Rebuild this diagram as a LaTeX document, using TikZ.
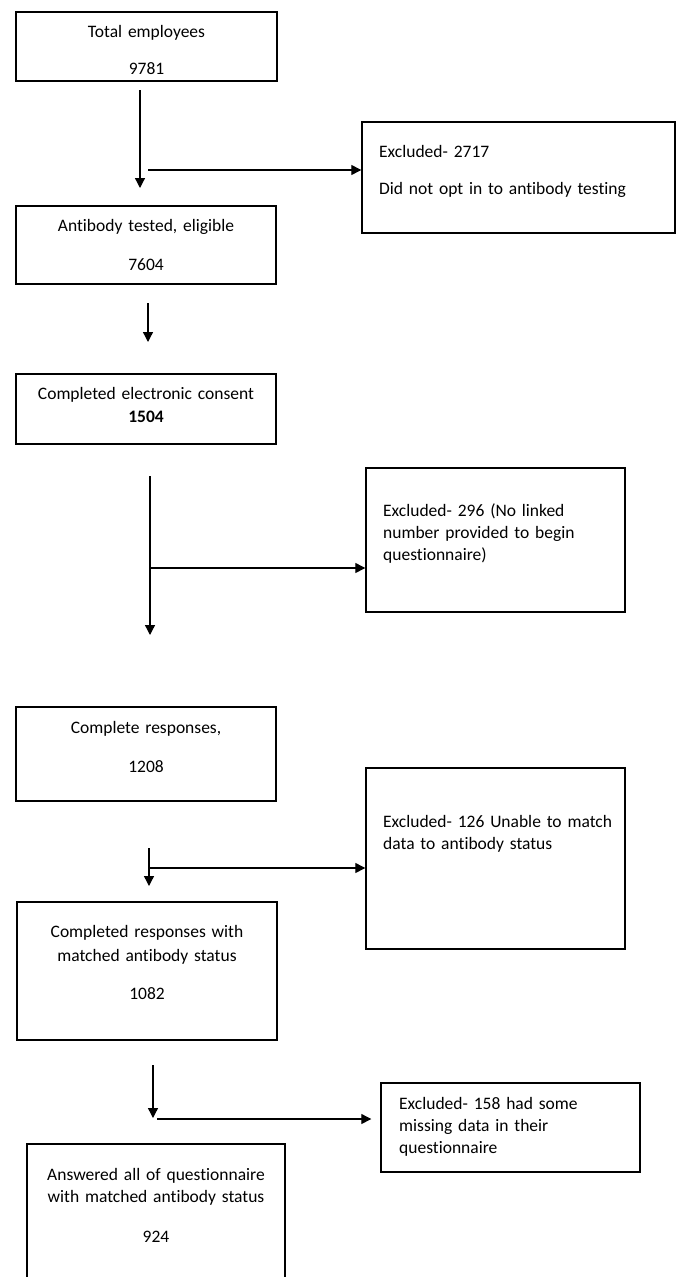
\documentclass[tikz,border=0pt]{standalone}
\usepackage{fontspec}
\setmainfont{Carlito}[Ligatures=NoCommon]
\usepackage{tikz}
\usetikzlibrary{arrows.meta}
\usetikzlibrary{calc}
\tikzset{my box/.style={
  draw=black,
  line width=1.4pt,
  inner sep=0pt
  }
}
\tikzset{my text/.style={
  inner sep=0pt,
  font=\fontsize{17.5}{22}\selectfont
  }
}
\tikzset{my arrow/.style={
  black,
  line width=1.3pt,
  -{Triangle[length=10pt,width=10pt]}
  }
}

\begin{document}
\begin{tikzpicture}[x=1pt,y=-1pt]
    \useasboundingbox (0,0) rectangle (678,1277);

    \node[my box,minimum width=261,minimum height=69] (Total) at (146.5,46.5) {};
    \node[my box,minimum width=260,minimum height=78] (Tested) at (146,245) {};
    \node[my box,minimum width=260,minimum height=70] (Consent) at (146,409) {};
    \node[my box,minimum width=260,minimum height=94] (Complete) at (146,754) {};
    \node[my box,minimum width=260,minimum height=138] (Matched) at (147,971) {};
    \node[my box,minimum width=258,minimum height=160] (Answered) at (156,1224) {};

    \node[my box,minimum width=313,minimum height=111] (Excl1) at (518.5,177.5) {};
    \node[my box,minimum width=259,minimum height=144] (Excl2) at (495.5,540) {};
    \node[my box,minimum width=259,minimum height=181] (Excl3) at (495.5,858.5) {};
    \node[my box,minimum width=259,minimum height=89] (Excl4) at (510.5,1127.5) {};

    \node[my text,anchor=base,text width=250pt,align=center] (TotalT) at (146.5,37.5) {Total employees\\[15pt]9781};
    \node[my text,anchor=base,text width=250pt,align=center] (TestedT) at (146,231.5) {Antibody tested, eligible\\[17pt]7604};
    \node[my text,anchor=base,text width=250pt,align=center] (ConsentT) at (146,399.5) {Completed electronic consent\\[1pt]\textbf{1504}};
    \node[my text,anchor=base,text width=250pt,align=center] (CompleteT) at (146,733.5) {Complete responses,\\[17pt]1208};
    \node[my text,anchor=base,text width=250pt,align=center] (MatchedT) at (147,937.5) {Completed responses with\\[2pt]matched antibody status\\[16pt]1082};
    \node[my text,anchor=base,text width=250pt,align=center] (AnsweredT) at (156,1180.5) {Answered all of questionnaire\\with matched antibody status\\[18pt]924};

    \node[my text,anchor=base west,text width=290pt,align=left] (Excl1T) at (379,157.5) {Excluded- 2717\\[15pt]Did not opt in to antibody testing};
    \node[my text,anchor=base west,text width=240pt,align=left] (Excl2T) at (383,516.5) {Excluded- 296 (No linked\\number provided to begin\\questionnaire)};
    \node[my text,anchor=base west,text width=240pt,align=left] (Excl3T) at (383,827.5) {Excluded- 126 Unable to match\\data to antibody status};
    \node[my text,anchor=base west,text width=240pt,align=left] (Excl4T) at (399,1109.5) {Excluded- 158 had some\\missing data in their\\questionnaire};

    \coordinate (A1) at (140,90);
    \coordinate (A2) at (140,188);
    \coordinate (B1) at (148,170);
    \coordinate (A3) at (148,303);
    \coordinate (A4) at (148,342);
    \coordinate (A5) at (150,476);
    \coordinate (A6) at (150,635);
    \coordinate (B2) at (150,568);
    \coordinate (A7) at (149,848);
    \coordinate (A8) at (149,886);
    \coordinate (B3) at (149,868);
    \coordinate (A9) at (153,1065);
    \coordinate (A10) at (153,1118);
    \coordinate (B4) at (157,1119);

    \draw[my arrow] (A1) -- (A2);
    \draw[my arrow] (B1) -- (B1 -| Excl1.west);
    \draw[my arrow] (A3) -- (A4);
    \draw[my arrow] (A5) -- (A6);
    \draw[my arrow] (B2) -- (B2 -| Excl2.west);
    \draw[my arrow] (A7) -- (A8);
    \draw[my arrow] (B3) -- (B3 -| Excl3.west);
    \draw[my arrow] (A9) -- (A10);
    \draw[my arrow] (B4) -- ($(B4 -| Excl4.west)+(-9,0)$);

\end{tikzpicture}
\end{document}
